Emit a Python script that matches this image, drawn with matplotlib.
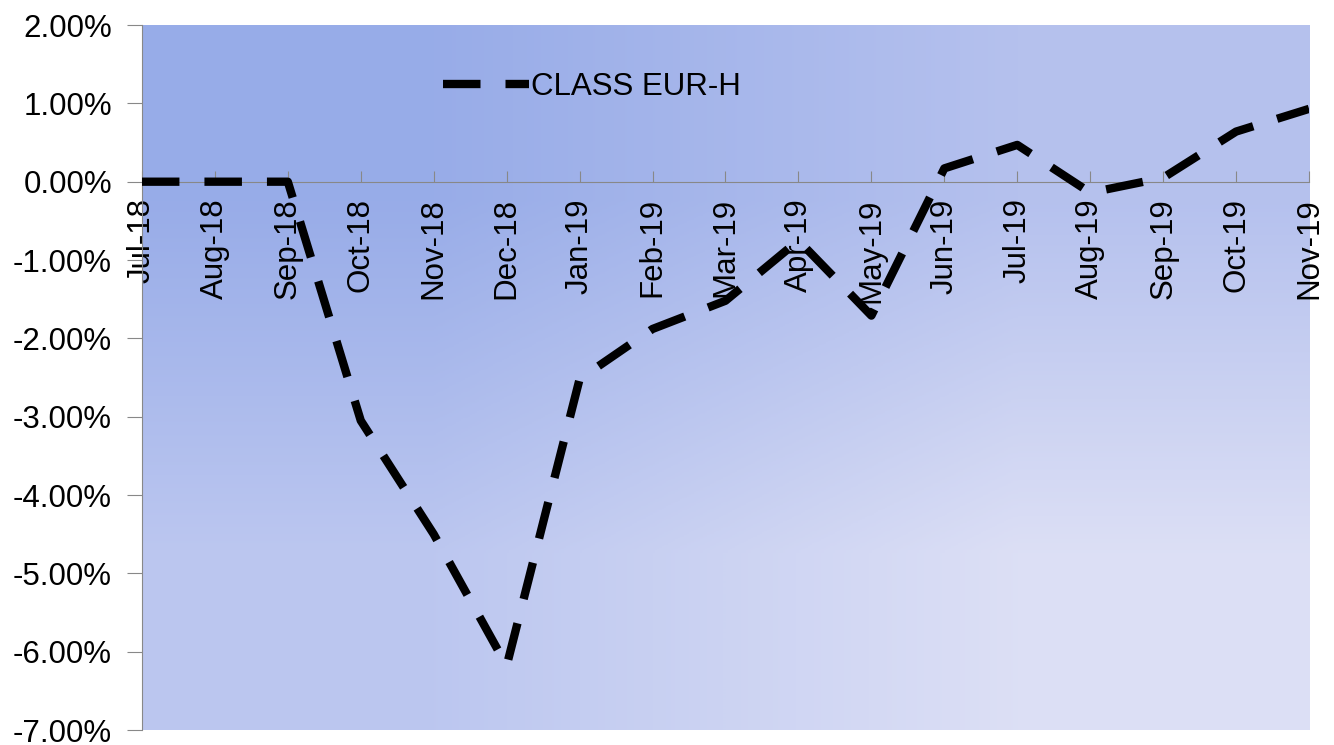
import numpy as np
import matplotlib.pyplot as plt
from matplotlib.ticker import FuncFormatter

plt.rcParams["font.family"] = "Liberation Sans"

# monthly values (%)
months = ["Jul-18", "Aug-18", "Sep-18", "Oct-18", "Nov-18", "Dec-18",
          "Jan-19", "Feb-19", "Mar-19", "Apr-19", "May-19", "Jun-19",
          "Jul-19", "Aug-19", "Sep-19", "Oct-19", "Nov-19"]
eur_h = [0.0, 0.0, 0.0, -3.05, -4.50, -6.18,
         -2.52, -1.88, -1.52, -0.75, -1.71, 0.17,
         0.47, -0.14, 0.05, 0.64, 0.93]
y_ticks = [2, 1, 0, -1, -2, -3, -4, -5, -6, -7]

fig = plt.figure(figsize=(13.34, 7.45), dpi=100)
ax = fig.add_axes([0.1064, 0.0201, 0.8749, 0.9463])

# diagonal gradient background
grad = np.array([[[0.596, 0.675, 0.910], [0.710, 0.757, 0.933]],
                 [[0.737, 0.780, 0.941], [0.863, 0.875, 0.961]]])
ax.imshow(grad, extent=[0, 1, 0, 1], transform=ax.transAxes,
          interpolation="bilinear", aspect="auto", zorder=0)

# spines first (set_position resets the ticks)
for s in ["top", "right"]:
    ax.spines[s].set_visible(False)
ax.spines["bottom"].set_position(("data", 0))
ax.spines["bottom"].set_color("#888888")
ax.spines["left"].set_color("#888888")
ax.spines["bottom"].set_zorder(2)

x = np.arange(len(months))
ax.plot(x, eur_h, color="black", lw=6, dashes=(4.5, 3),
        dash_capstyle="butt", label="CLASS EUR-H", zorder=3)

ax.set_xlim(0, len(months) - 1)
ax.set_ylim(-7, 2)
ax.set_yticks(y_ticks)
ax.yaxis.set_major_formatter(FuncFormatter(lambda v, p: "{:.2f}%".format(v)))
ax.set_xticks(x)
ax.set_xticklabels(months)

ax.tick_params(axis="x", direction="in", length=8, color="#888888",
               pad=12, labelsize=22.5, labelrotation=90)
ax.tick_params(axis="y", direction="out", length=11, color="#888888",
               pad=10.5, labelsize=22.5)

ax.legend(loc="center left", bbox_to_anchor=(0.258, 0.912), frameon=False,
          fontsize=22.5, borderpad=0, borderaxespad=0, handlelength=2.75,
          handletextpad=0.05)

fig.savefig("out.png", dpi=100)
